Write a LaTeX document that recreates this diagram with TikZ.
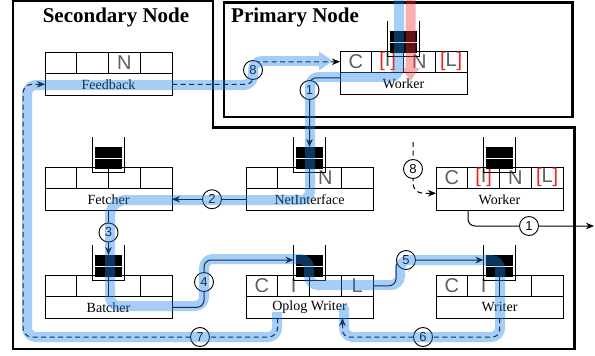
\documentclass[tikz,border=0pt]{standalone}
\usepackage{fontspec}
\setmainfont{Liberation Serif}
\newfontfamily\cellfont{Liberation Sans}
\usetikzlibrary{arrows.meta,calc}
\definecolor{bandblue}{RGB}{30,130,230}
\definecolor{bandred}{RGB}{242,55,55}
\definecolor{celltext}{RGB}{95,95,95}
\definecolor{brk}{RGB}{235,35,35}
\pgfdeclarelayer{back}\pgfdeclarelayer{lines}\pgfdeclarelayer{front}
\pgfsetlayers{back,lines,main,front}
\newcommand\brI{\textcolor{brk}{[}I\textcolor{brk}{]}}
\newcommand\brL{\textcolor{brk}{[}L\textcolor{brk}{]}}
% name, left x, top y, label, four cell texts
\newcommand\mkcomp[8]{%
  \node[cell] (#1-1) at ({#2+15.875},{#3+10.75}) {#5};
  \node[cell] (#1-2) at ({#2+47.625},{#3+10.75}) {#6};
  \node[cell] (#1-3) at ({#2+79.375},{#3+10.75}) {#7};
  \node[cell] (#1-4) at ({#2+111.125},{#3+10.75}) {#8};
  \node[labrow] (#1) at ({#2+63.5},{#3+32.25}) {#4};
}
% name, centre x, box top y
\newcommand\mkbucket[3]{%
  \fill ({#2-13.5},{#3-20}) rectangle ({#2+13.5},{#3+2});
  \draw[white,line width=0.9pt] ({#2-13.5},{#3-9}) -- ({#2+13.5},{#3-9});
  \draw[line width=1pt] ({#2-16},{#3-30}) -- ({#2-16},{#3+5}) -- ({#2+16},{#3+5}) -- ({#2+16},{#3-30});
  \coordinate (#1-top) at ({#2},{#3-20});
  \coordinate (#1-left) at ({#2-16},{#3-15});
}
\begin{document}
\begin{tikzpicture}[x=1pt,y=-1pt,
  cell/.style={draw=black, line width=0.9pt, fill=white, minimum width=31.75pt, minimum height=21.5pt,
    inner sep=0pt, outer sep=0pt, font=\cellfont\fontsize{20}{20}\selectfont, text=celltext},
  labrow/.style={draw=black, line width=0.9pt, fill=white, minimum width=127pt, minimum height=21.5pt,
    inner sep=0pt, outer sep=0pt, font=\fontsize{14}{14}\selectfont},
  num/.style={circle, draw=black, line width=0.9pt, fill=white, minimum size=19pt, inner sep=0pt,
    font=\cellfont\fontsize{13}{13}\selectfont},
  conn/.style={line width=1pt, black, rounded corners=7pt},
  arr/.style={-{Stealth[length=8pt,width=6.5pt,inset=2.5pt]}},
  dashline/.style={dash pattern=on 5pt off 3.5pt},
  band/.style={line width=10pt, rounded corners=9pt},
  outerframe/.style={line width=2.2pt, black},
  title/.style={font=\bfseries\fontsize{21}{21}\selectfont, inner sep=0pt}
]
\useasboundingbox (0,0) rectangle (595,356);
\begin{pgfonlayer}{back}
  \fill[white] (0,0) rectangle (595,356);
  \draw[outerframe] (13,1) -- (213,1) -- (213,127.5) -- (574.5,127.5) -- (574.5,349) -- (13,349) -- cycle;
  \draw[outerframe] (224,2.5) rectangle (572.5,117);
  \node[title, anchor=base] (sectitle) at (116,23) {Secondary Node};
  \node[title, anchor=base west] (primtitle) at (231,22) {Primary Node};
  \mkcomp{fb}{45}{52}{Feedback}{}{}{N}{}
  \mkcomp{pw}{340}{51}{Worker}{C}{\brI}{N}{\brL}
  \mkcomp{fe}{45}{167}{Fetcher}{}{}{}{}
  \mkcomp{ni}{246}{167}{NetInterface}{}{}{N}{}
  \mkcomp{sw}{436}{167}{Worker}{C}{\brI}{N}{\brL}
  \mkcomp{ba}{45}{275}{Batcher}{}{}{}{}
  \mkcomp{op}{246}{275}{Oplog Writer}{C}{I}{}{L}
  \mkcomp{wr}{436}{275}{Writer}{C}{I}{}{}
  \mkbucket{pwb}{403.5}{51}
  \mkbucket{feb}{108.5}{167}
  \mkbucket{nib}{309.5}{167}
  \mkbucket{swb}{499.5}{167}
  \mkbucket{bab}{108.5}{275}
  \mkbucket{opb}{309.5}{275}
  \mkbucket{wrb}{499.5}{275}
\end{pgfonlayer}

% numbered circles
\node[num] (n1) at (309.5,90) {1};
\node[num] (n4) at (204,282) {4};
\node[num] (n5) at (406,260) {5};
\node[num] (n6) at (423,337) {6};
\node[num] (n7) at (200,337) {7};
\node[num] (n8) at (253,70) {8};
\node[num] (n8b) at (413,169) {8};
\node[num] (n1b) at (529,226) {1};
\coordinate (s8top) at (413,142);
\coordinate (s1end) at (594,226);

\begin{pgfonlayer}{lines}
  \draw[conn,arr] ([yshift=5.5pt]pw.west) -| (nib-top);
  \draw[conn,arr] (ni.west) -- node[num,pos=0.46] (n2) {2} (fe.east);
  \draw[conn,arr] (fe.south) -- node[num] (n3) {3} (bab-top);
  \draw[conn,arr] (ba.east) -| (n4.center) |- (opb-left);
  \draw[conn,arr] (op-4.east) -| (n5.west) -- (wrb-left);
  \draw[conn,dashline,arr] (wr.south) |- (n6.center) -| ([xshift=33pt]op.south);
  \draw[conn,dashline,arr,rounded corners=9pt] ([xshift=-32pt]op.south) |- (n7.center) -| ([xshift=-22pt]fb.west) -- (fb.west);
  \draw[conn,dashline,arr] (fb.east) -| (n8.center) |- (pw-1.west);
  \draw[conn,dashline,arr,rounded corners=10pt] (s8top) -- (n8b.center) |- ([yshift=6pt]sw.west);
  \draw[conn,arr] ([xshift=-31.5pt]sw.south) |- (n1b.center) -- (s1end);
\end{pgfonlayer}

\begin{pgfonlayer}{front}
  \begin{scope}[transparency group, opacity=0.4]
    \draw[band, bandblue, line cap=round] (399,-8) -- (399,77) -- (310,77) -- (310,200)
      [rounded corners=16pt] -- (110,200) [rounded corners=9pt] -- (110,306) -- (204,306) -- (204,259)
      -- (309,259) -- (309,285) -- (400,285) -- (400,260) -- (500,260) -- (500,337) -- (344,337) -- (344,309);
  \end{scope}
  \begin{scope}[transparency group, opacity=0.4]
    \draw[band, bandblue, -{Triangle[length=14pt,width=18pt]}] (277,312) -- (277,337) -- (27,337) -- (27,85)
      -- (253,85) -- (253,61) -- (333,61);
  \end{scope}
  \begin{scope}[transparency group, opacity=0.4]
    \draw[band, bandred, -{Triangle[length=13pt,width=17pt]}] (410.5,-8) -- (410.5,81);
  \end{scope}
\end{pgfonlayer}
\end{tikzpicture}
\end{document}
